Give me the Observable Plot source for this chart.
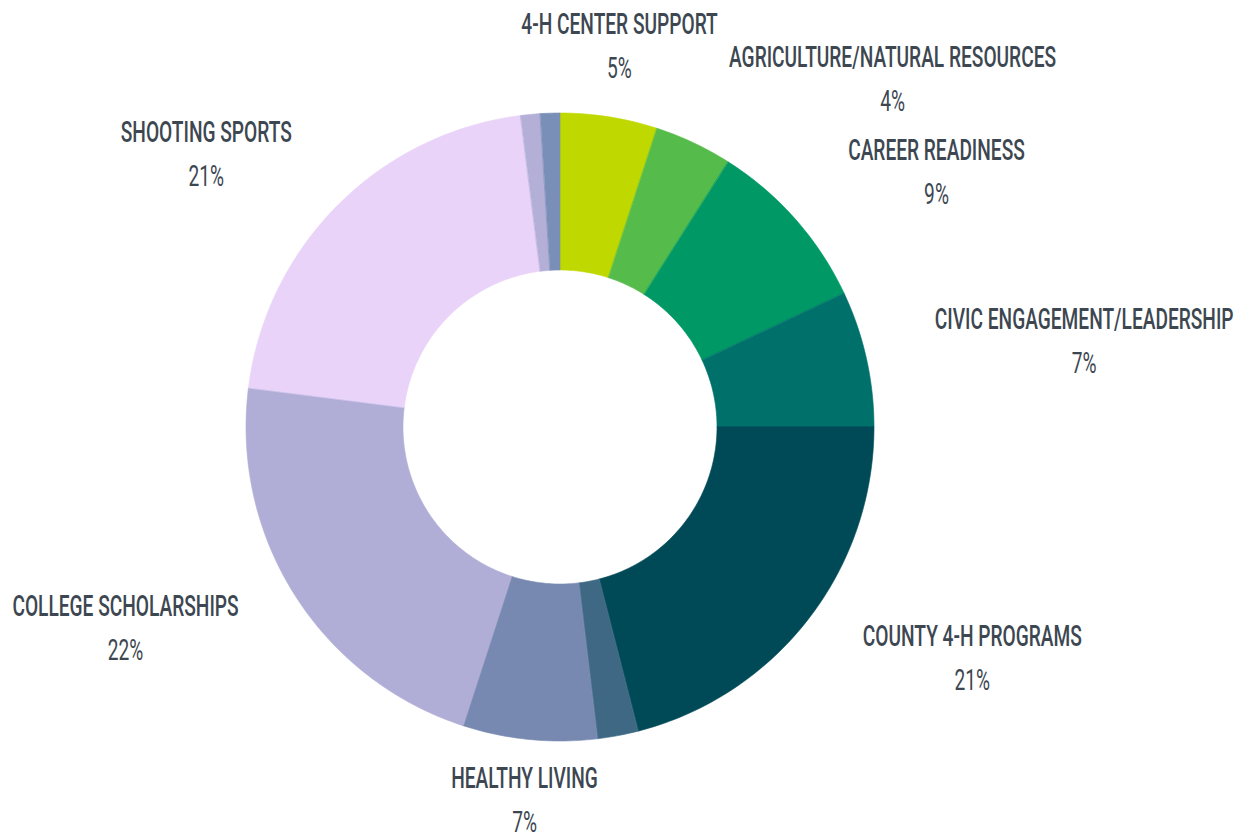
<!DOCTYPE html>
<html>
<head>
<meta charset="utf-8">
<script src="https://cdn.jsdelivr.net/npm/d3@7"></script>
<script src="https://cdn.jsdelivr.net/npm/@observablehq/plot@0.6"></script>
<style>
  html, body { margin: 0; padding: 0; background: #ffffff; }
  #chart { width: 1247px; height: 837px; }
</style>
</head>
<body>
<div id="chart"></div>
<script>
// ---- Data (clockwise from 12 o'clock) ----
const categories = [
  "4-H CENTER SUPPORT",
  "AGRICULTURE/NATURAL RESOURCES",
  "CAREER READINESS",
  "CIVIC ENGAGEMENT/LEADERSHIP",
  "COUNTY 4-H PROGRAMS",
  "OTHER A",
  "HEALTHY LIVING",
  "COLLEGE SCHOLARSHIPS",
  "SHOOTING SPORTS",
  "OTHER B",
  "OTHER C"
];
const shares = [5, 4, 9, 7, 21, 2.1, 6.9, 22, 21, 1, 1];
const showLabel = [true, true, true, true, true, false, true, true, true, false, false];
const colors = [
  "#bfd800", "#55bb4b", "#009966", "#00706b", "#004a57",
  "#3e6883", "#7789b0", "#b0aed6", "#e9d3f9", "#b3afd7", "#7a8fb8"
];

// ---- Layout (not data) ----
// label block anchors: [angle in degrees clockwise from top, radius relative to outer radius]
const labelLayout = [
  [8.8, 1.228], [43.65, 1.532], [55.85, 1.447], [80.7, 1.690], [119.3, 1.504],
  null, [185.5, 1.195], [245.2, 1.526], [307.6, 1.424], null, null
];
const cx = 560, cy = 427, R = 314, innerRatio = 0.5;
const textColor = "#3d4751";
const condense = 0.66;

// ---- Build slice geometry ----
const total = d3.sum(shares);
const rows = [];
let cum = 0;
categories.forEach((name, i) => {
  const a0 = cum / total * 2 * Math.PI;
  cum += shares[i];
  const a1 = cum / total * 2 * Math.PI;
  const n = Math.max(2, Math.ceil((a1 - a0) / (Math.PI / 180)));
  for (let k = 0; k <= n; k++) {
    const a = a0 + (a1 - a0) * k / n;
    rows.push({
      name,
      ox: Math.sin(a), oy: Math.cos(a),
      ix: innerRatio * Math.sin(a), iy: innerRatio * Math.cos(a)
    });
  }
});

const labels = [];
categories.forEach((name, i) => {
  if (!showLabel[i] || !labelLayout[i]) return;
  const [deg, r] = labelLayout[i];
  const a = deg * Math.PI / 180;
  labels.push({
    name,
    pct: Math.round(shares[i] / total * 100) + "%",
    x: r * Math.sin(a), y: r * Math.cos(a)
  });
});

const chart = Plot.plot({
  width: 1247,
  height: 837,
  margin: 0,
  x: {domain: [-1, 1], range: [cx - R, cx + R], axis: null},
  y: {domain: [-1, 1], range: [cy + R, cy - R], axis: null},
  color: {domain: categories, range: colors},
  style: {background: "#ffffff", overflow: "visible"},
  marks: [
    Plot.area(rows, {
      x1: "ox", y1: "oy", x2: "ix", y2: "iy",
      z: "name", fill: "name", stroke: "name", strokeWidth: 0.6
    }),
    Plot.text(labels, {
      x: "x", y: "y", text: "name", dy: -22,
      fill: textColor, fontSize: 29, fontWeight: 500,
      fontFamily: "Roboto, 'Liberation Sans', sans-serif", textAnchor: "middle", lineAnchor: "middle"
    }),
    Plot.text(labels, {
      x: "x", y: "y", text: "pct", dy: 22,
      fill: textColor, fontSize: 29, fontWeight: 400,
      fontFamily: "Roboto, 'Liberation Sans', sans-serif", textAnchor: "middle", lineAnchor: "middle"
    })
  ]
});

document.getElementById("chart").appendChild(chart);

// condense label glyphs horizontally to imitate the narrow display face
chart.querySelectorAll("text").forEach(t => {
  const w = t.getComputedTextLength();
  if (w > 0) {
    t.setAttribute("textLength", (w * condense).toFixed(1));
    t.setAttribute("lengthAdjust", "spacingAndGlyphs");
  }
});
</script>
</body>
</html>
